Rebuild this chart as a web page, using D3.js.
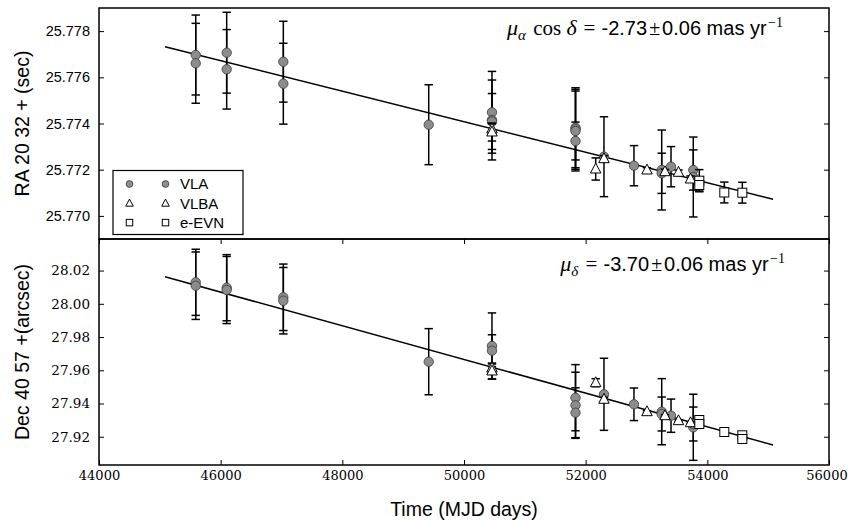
<!DOCTYPE html>
<html><head><meta charset="utf-8">
<script src="https://cdn.jsdelivr.net/npm/d3@7/dist/d3.min.js"></script>
<style>
body{margin:0;background:#fff;}
svg{display:block;}
</style></head>
<body>
<svg id="chart" width="848" height="521"></svg>
<script>
// ---------- data ----------
const xTicks = [44000, 46000, 48000, 50000, 52000, 54000, 56000];
const raTicks = [25.770, 25.772, 25.774, 25.776, 25.778];
const decTicks = [27.92, 27.94, 27.96, 27.98, 28.00, 28.02];

// [MJD, value, error]
const vlaRA = [
 [45590, 25.776965, 0.00173], [45590, 25.776606, 0.00173],
 [46099, 25.777065, 0.00175], [46099, 25.776346, 0.00172],
 [47030, 25.776675, 0.00175], [47030, 25.775723, 0.00175],
 [49420, 25.773948, 0.00173],
 [50460, 25.774485, 0.00177], [50460, 25.774152, 0.00173], [50460, 25.774087, 0.00121],
 [51833, 25.773818, 0.00173], [51833, 25.773749, 0.00173], [51833, 25.773675, 0.00173], [51833, 25.773242, 0.00082],
 [52301, 25.772563, 0.00173],
 [52794, 25.772173, 0.00087],
 [53250, 25.771987, 0.00173], [53250, 25.771844, 0.00087],
 [53403, 25.772130, 0.00087],
 [53769, 25.771987, 0.00087], [53769, 25.771684, 0.00173]
];
const vlbaRA = [
 [50460, 25.773762, 0.00022], [50460, 25.773632, 0.00039],
 [52165, 25.772030, 0.00048],
 [52301, 25.772476, 0.00013],
 [53008, 25.771987, 0.00010],
 [53304, 25.771913, 0.00010],
 [53526, 25.771887, 0.00010],
 [53723, 25.771597, 0.00013]
];
const evnRA = [
 [53868, 25.771524, 0.00048], [53868, 25.771338, 0.00026],
 [54279, 25.771013, 0.00045],
 [54575, 25.771004, 0.00045]
];
const vlaDec = [
 [45590, 28.01294, 0.0199], [45590, 28.01090, 0.0203],
 [46099, 28.00969, 0.0199], [46099, 28.00831, 0.0202],
 [47030, 28.00392, 0.0200], [47030, 28.00187, 0.0200],
 [49420, 27.96516, 0.0199],
 [50460, 27.97461, 0.0199], [50460, 27.97178, 0.0096],
 [51833, 27.94350, 0.0199], [51833, 27.93893, 0.0199], [51833, 27.93447, 0.0150],
 [52301, 27.94555, 0.0217],
 [52794, 27.93953, 0.0098],
 [53250, 27.93507, 0.0199], [53250, 27.93369, 0.0102],
 [53403, 27.93267, 0.0100],
 [53769, 27.92569, 0.0199], [53769, 27.92767, 0.0102]
];
const vlbaDec = [
 [50460, 27.96137, 0.0024], [50460, 27.95957, 0.0048],
 [52165, 27.95253, 0.0024],
 [52301, 27.94254, 0.0012],
 [53008, 27.93507, 0.0006],
 [53304, 27.93267, 0.0006],
 [53526, 27.92966, 0.0006],
 [53723, 27.92845, 0.0006]
];
const evnDec = [
 [53868, 27.93008, 0.0012], [53868, 27.92767, 0.0012],
 [54279, 27.92286, 0.0010],
 [54575, 27.92087, 0.0010], [54575, 27.91865, 0.0010]
];
const fitMjd = [45085, 55081];
const raFit = [25.777325, 25.770719];
const decFit = [28.01631, 27.91504];
const legendLabels = ["VLA", "VLBA", "e-EVN"];

// ---------- layout ----------
const L = 99, R = 829, T1 = 8, M = 239, B2 = 465;
const SANS = "Liberation Sans, Arial, Helvetica, sans-serif";
const SERIF = "DejaVu Serif, Liberation Serif, serif";
const MATH = "Liberation Serif, DejaVu Serif, serif";

const svg = d3.select("#chart");
const x = d3.scaleLinear().domain([44000, 56000]).range([L, R]);
const yRA = d3.scaleLinear().domain([25.769, 25.779]).range([M, T1]);
const yDec = d3.scaleLinear().domain([27.903, 28.039]).range([B2, M]);

const triPath = s => `M0,${-s*0.62}L${s*0.55},${s*0.42}L${-s*0.55},${s*0.42}Z`;

function drawMarker(g, type, cx, cy, scale) {
  if (type === "circle") {
    g.append("circle").attr("cx", cx).attr("cy", cy).attr("r", 4.7*scale)
      .attr("fill", "#8c8c8c").attr("stroke", "#3a3a3a").attr("stroke-width", 0.8);
  } else if (type === "tri") {
    g.append("path").attr("d", triPath(9.5*scale)).attr("transform", `translate(${cx},${cy})`)
      .attr("fill", "#fff").attr("stroke", "#000").attr("stroke-width", 1);
  } else {
    const s = 9*scale;
    g.append("rect").attr("x", cx - s/2).attr("y", cy - s/2).attr("width", s).attr("height", s)
      .attr("fill", "#fff").attr("stroke", "#000").attr("stroke-width", 1);
  }
}

function series(g, data, y, type) {
  const eb = g.append("g").attr("stroke", "#000").attr("stroke-width", 1.5);
  data.forEach(d => {
    const cx = x(d[0]), y0 = y(d[1] - d[2]), y1 = y(d[1] + d[2]);
    eb.append("line").attr("x1", cx).attr("x2", cx).attr("y1", y0).attr("y2", y1);
    eb.append("line").attr("x1", cx-4.2).attr("x2", cx+4.2).attr("y1", y0).attr("y2", y0);
    eb.append("line").attr("x1", cx-4.2).attr("x2", cx+4.2).attr("y1", y1).attr("y2", y1);
  });
  const mk = g.append("g");
  data.forEach(d => drawMarker(mk, type, x(d[0]), y(d[1]), 1));
}

function styleAxis(a, font, size) {
  a.attr("font-family", null).attr("font-size", null);
  a.select(".domain").remove();
  a.selectAll("line").attr("stroke", "#000");
  a.selectAll("text").style("font-family", font).style("font-size", size + "px").attr("fill", "#000");
}

function panel(y, top, bottom, ticks, fmt, tickFont, tickSize, sets, fit, showX) {
  const g = svg.append("g");
  g.append("line").attr("x1", x(fitMjd[0])).attr("x2", x(fitMjd[1]))
    .attr("y1", y(fit[0])).attr("y2", y(fit[1]))
    .attr("stroke", "#000").attr("stroke-width", 1.5);
  sets.forEach(s => series(g, s[0], y, s[1]));
  const la = svg.append("g").attr("transform", `translate(${L},0)`)
    .call(d3.axisLeft(y).tickValues(ticks).tickFormat(d3.format(fmt)).tickSizeInner(-5).tickSizeOuter(0).tickPadding(9));
  styleAxis(la, tickFont, tickSize);
  const ra = svg.append("g").attr("transform", `translate(${R},0)`)
    .call(d3.axisRight(y).tickValues(ticks).tickFormat("").tickSizeInner(-5).tickSizeOuter(0));
  styleAxis(ra, tickFont, tickSize);
  if (showX) {
    const ba = svg.append("g").attr("transform", `translate(0,${bottom})`)
      .call(d3.axisBottom(x).tickValues(xTicks).tickFormat(d3.format("d")).tickSizeInner(-5).tickSizeOuter(0).tickPadding(6));
    styleAxis(ba, SERIF, 13);
    // keep the right-most label inside the window
    ba.selectAll(".tick text").filter(d => d === xTicks[xTicks.length - 1]).attr("dx", -2.5);
    const ta = svg.append("g").attr("transform", `translate(0,${top})`)
      .call(d3.axisTop(x).tickValues(xTicks).tickFormat("").tickSizeInner(-5).tickSizeOuter(0));
    styleAxis(ta, SERIF, 13);
  }
  svg.append("rect").attr("x", L).attr("y", top).attr("width", R - L).attr("height", bottom - top)
    .attr("fill", "none").attr("stroke", "#000").attr("stroke-width", 1.5);
}

panel(yRA, T1, M, raTicks, ".3f", SANS, 14.5,
  [[vlaRA, "circle"], [vlbaRA, "tri"], [evnRA, "square"]], raFit, false);
panel(yDec, M, B2, decTicks, ".2f", SERIF, 13.5,
  [[vlaDec, "circle"], [vlbaDec, "tri"], [evnDec, "square"]], decFit, true);

// ---------- legend ----------
const lg = svg.append("g");
lg.append("rect").attr("x", 113).attr("y", 170.5).attr("width", 130).attr("height", 64)
  .attr("fill", "#fff").attr("stroke", "#000").attr("stroke-width", 1.2);
const types = ["circle", "tri", "square"];
legendLabels.forEach((lab, i) => {
  const cy = 184 + i * 19.3;
  drawMarker(lg, types[i], 129.5, cy, 0.72);
  drawMarker(lg, types[i], 165.5, cy, 0.72);
  lg.append("text").attr("x", 180).attr("y", cy + 5.4).text(lab)
    .style("font-family", SANS).style("font-size", "15px").attr("fill", "#000");
});

// ---------- axis labels ----------
svg.append("text").attr("x", (L + R) / 2).attr("y", 516).attr("text-anchor", "middle")
  .style("font-family", SANS).style("font-size", "19.5px").text("Time (MJD days)");
svg.append("text").attr("transform", `translate(29,${(T1 + M) / 2}) rotate(-90)`).attr("text-anchor", "middle")
  .style("font-family", SANS).style("font-size", "19.5px").text("RA 20 32 + (sec)");
svg.append("text").attr("transform", `translate(29,${(M + B2) / 2}) rotate(-90)`).attr("text-anchor", "middle")
  .style("font-family", SANS).style("font-size", "19.5px").text("Dec 40 57 +(arcsec)");

// ---------- annotations ----------
function annot(xEnd, yp, sub, withCos, value) {
  const t = svg.append("text").attr("x", xEnd).attr("y", yp).attr("text-anchor", "end").attr("fill", "#000");
  const sp = (txt, fam, size, italic) => {
    const s = t.append("tspan").style("font-family", fam).style("font-size", size + "px").text(txt);
    if (italic) s.style("font-style", "italic");
    return s;
  };
  sp("μ", MATH, 22, true);
  sp(sub, MATH, 15, true).attr("dy", 4.5);
  if (withCos) {
    sp(" cos ", MATH, 21, false).attr("dy", -4.5).attr("dx", 2);
    sp("δ", MATH, 22, true);
    sp(" = ", MATH, 21, false).attr("dx", 1.5);
  } else {
    sp(" = ", MATH, 21, false).attr("dy", -4.5).attr("dx", 2);
  }
  sp(value[0], SANS, 20, false).attr("dx", 1);
  sp("±", MATH, 20, false).attr("dx", 2);
  sp(value[1] + " mas yr", SANS, 20, false).attr("dx", 2);
  sp("−1", MATH, 14, false).attr("dy", -8).attr("dx", 1.5);
}
annot(783, 35, "α", true, ["-2.73", "0.06"]);
annot(785, 271, "δ", false, ["-3.70", "0.06"]);
</script>
</body></html>
